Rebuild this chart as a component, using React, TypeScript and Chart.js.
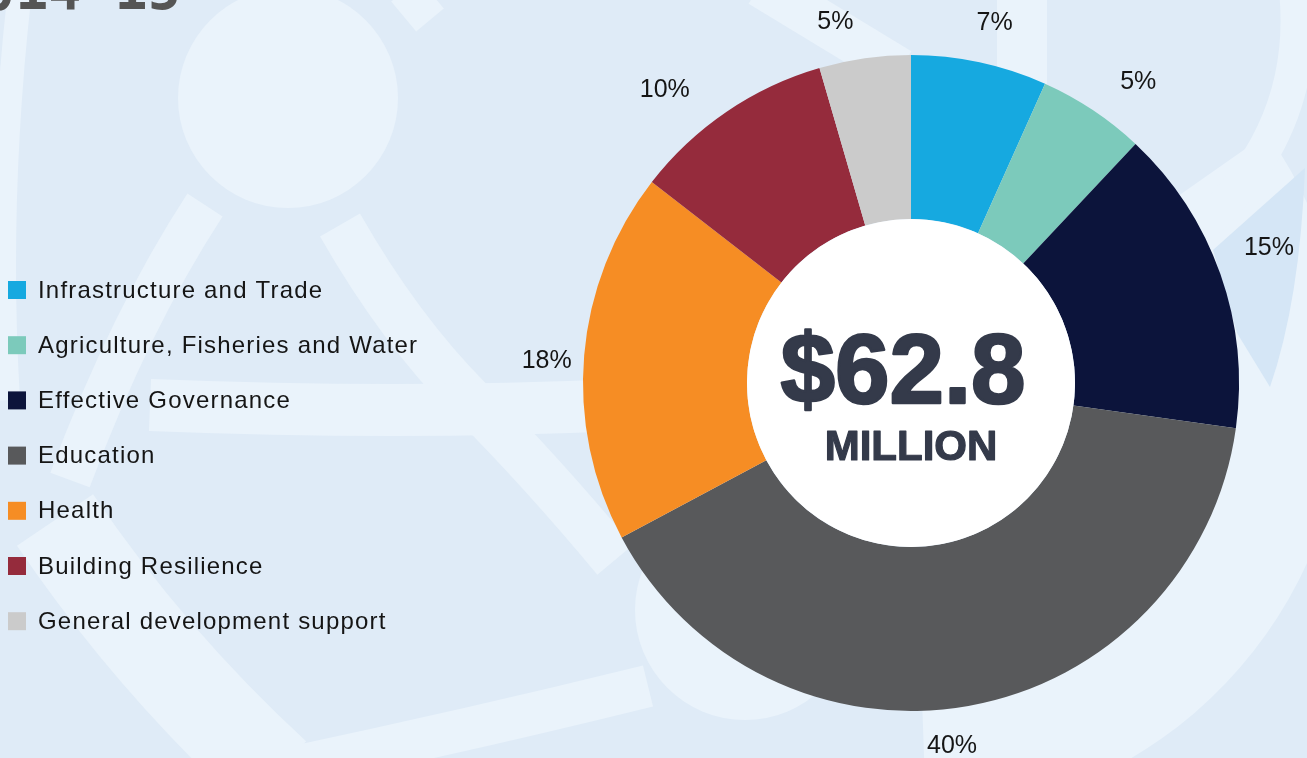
import React, { useEffect, useRef } from "react";
import { Chart, registerables } from "chart.js";

Chart.register(...registerables);

const categories = [
  "Infrastructure and Trade",
  "Agriculture, Fisheries and Water",
  "Effective Governance",
  "Education",
  "Health",
  "Building Resilience",
  "General development support",
];
const shares = [6.7, 5.3, 15.2, 40.0, 18.3, 10.0, 4.5];
const shareLabels = ["7%", "5%", "15%", "40%", "18%", "10%", "5%"];
const colors = ["#16a9e0", "#7ccabb", "#0c143b", "#58595b", "#f68d24", "#952b3c", "#cbcbcb"];
const totalText = "$62.8";
const unitText = "MILLION";
const yearText = "2014-15";

// label placement style (angle nudge in degrees, gap beyond outer radius in px)
const labelNudgeDeg = [1.0, 3.3, -1.4, 3.6, -1.3, -5.8, -3.7];
const labelGap = [42, 50, 55, 36, 37, 55, 42];

const BASE = "#dfebf7";
const LIGHT = "#eaf3fb";
const DARK = "#d5e6f6";

function drawDecor(ctx: CanvasRenderingContext2D) {
  ctx.save();
  ctx.fillStyle = BASE;
  ctx.fillRect(0, 0, 1307, 758);
  ctx.strokeStyle = LIGHT;
  ctx.fillStyle = LIGHT;
  ctx.lineCap = "butt";
  // left outer band
  ctx.lineWidth = 24;
  ctx.beginPath();
  ctx.moveTo(20, -10);
  ctx.quadraticCurveTo(-4, 200, 8, 400);
  ctx.stroke();
  // top circle
  ctx.beginPath();
  ctx.arc(288, 98, 110, 0, Math.PI * 2);
  ctx.fill();
  // diagonal band down-left
  ctx.lineWidth = 42;
  ctx.beginPath();
  ctx.moveTo(205, 205);
  ctx.quadraticCurveTo(130, 320, 70, 480);
  ctx.stroke();
  // diagonal band down-right
  ctx.lineWidth = 46;
  ctx.beginPath();
  ctx.moveTo(340, 225);
  ctx.quadraticCurveTo(400, 330, 470, 400);
  ctx.quadraticCurveTo(540, 470, 615, 560);
  ctx.stroke();
  // horizontal band
  ctx.lineWidth = 52;
  ctx.beginPath();
  ctx.moveTo(150, 405);
  ctx.quadraticCurveTo(400, 415, 620, 405);
  ctx.stroke();
  // lower left bands
  ctx.lineWidth = 92;
  ctx.beginPath();
  ctx.moveTo(55, 520);
  ctx.quadraticCurveTo(150, 660, 275, 775);
  ctx.stroke();
  ctx.lineWidth = 42;
  ctx.beginPath();
  ctx.moveTo(280, 770);
  ctx.quadraticCurveTo(470, 730, 648, 686);
  ctx.stroke();
  // bottom circle
  ctx.beginPath();
  ctx.arc(745, 610, 110, 0, Math.PI * 2);
  ctx.fill();
  // top bands
  ctx.lineWidth = 44;
  ctx.beginPath();
  ctx.moveTo(760, -15);
  ctx.lineTo(900, 70);
  ctx.stroke();
  ctx.lineWidth = 50;
  ctx.beginPath();
  ctx.moveTo(1022, -5);
  ctx.lineTo(1022, 90);
  ctx.stroke();
  ctx.lineWidth = 36;
  ctx.beginPath();
  ctx.moveTo(405, -10);
  ctx.lineTo(430, 20);
  ctx.stroke();
  // light ring around donut on the right / bottom right
  const cx = 911, cy = 383;
  ctx.beginPath();
  ctx.arc(cx, cy, 435, (-90 + 55) * Math.PI / 180, (-90 + 178) * Math.PI / 180);
  ctx.arc(cx, cy, 320, (-90 + 178) * Math.PI / 180, (-90 + 55) * Math.PI / 180, true);
  ctx.closePath();
  ctx.fill();
  // top-right band
  ctx.lineWidth = 34;
  ctx.beginPath();
  ctx.moveTo(1296, -10);
  ctx.quadraticCurveTo(1310, 130, 1200, 228);
  ctx.stroke();
  // darker wedge
  ctx.fillStyle = DARK;
  ctx.beginPath();
  ctx.moveTo(1213, 250);
  ctx.lineTo(1305, 168);
  ctx.quadraticCurveTo(1300, 300, 1270, 387);
  ctx.lineTo(1237, 333);
  ctx.closePath();
  ctx.fill();
  ctx.restore();
}

const decorPlugin = {
  id: "decor",
  beforeDraw(chart: any) {
    drawDecor(chart.ctx);
  },
  afterDatasetsDraw(chart: any) {
    const ctx = chart.ctx as CanvasRenderingContext2D;
    const meta = chart.getDatasetMeta(0);
    const arcs = meta.data;
    if (!arcs.length) return;
    const first = arcs[0].getProps(["x", "y", "innerRadius", "outerRadius"], true);
    ctx.save();
    // white hole
    ctx.fillStyle = "#ffffff";
    ctx.beginPath();
    ctx.arc(first.x, first.y, first.innerRadius, 0, Math.PI * 2);
    ctx.fill();
    // center text
    ctx.fillStyle = "#343a4a";
    ctx.strokeStyle = "#343a4a";
    ctx.lineJoin = "round";
    ctx.textAlign = "center";
    ctx.textBaseline = "alphabetic";
    ctx.font = "bold 98px 'Liberation Sans', Arial, sans-serif";
    ctx.lineWidth = 2.5;
    ctx.fillText(totalText, first.x - 8, first.y + 20);
    ctx.strokeText(totalText, first.x - 8, first.y + 20);
    ctx.font = "bold 42px 'Liberation Sans', Arial, sans-serif";
    ctx.lineWidth = 1.2;
    ctx.fillText(unitText, first.x, first.y + 77);
    ctx.strokeText(unitText, first.x, first.y + 77);
    // percent labels
    ctx.fillStyle = "#151515";
    ctx.font = "25px 'Liberation Sans', Arial, sans-serif";
    ctx.textBaseline = "middle";
    arcs.forEach((arc: any, i: number) => {
      const p = arc.getProps(["x", "y", "startAngle", "endAngle", "outerRadius"], true);
      const mid = (p.startAngle + p.endAngle) / 2 + (labelNudgeDeg[i] * Math.PI) / 180;
      const r = p.outerRadius + labelGap[i];
      ctx.fillText(shareLabels[i], p.x + Math.cos(mid) * r, p.y + Math.sin(mid) * r + 1);
    });
    // legend
    ctx.textAlign = "left";
    ctx.font = "24px 'Liberation Sans', Arial, sans-serif";
    (ctx as any).letterSpacing = "1.2px";
    categories.forEach((c, i) => {
      const cy = 290 + i * 55.2;
      ctx.fillStyle = colors[i];
      ctx.fillRect(8, cy - 9, 18, 18);
      ctx.fillStyle = "#151515";
      ctx.fillText(c, 38, cy + 1);
    });
    (ctx as any).letterSpacing = "0px";
    // year heading (cut off at top)
    ctx.fillStyle = "#555555";
    ctx.font = "bold 55px 'DejaVu Sans Mono', monospace";
    ctx.textBaseline = "alphabetic";
    ctx.fillText(yearText, -51, 9);
    ctx.restore();
  },
};

export default function App() {
  const ref = useRef<HTMLCanvasElement>(null);
  useEffect(() => {
    if (!ref.current) return;
    const chart = new Chart(ref.current, {
      type: "doughnut",
      data: {
        labels: categories,
        datasets: [
          {
            data: shares,
            backgroundColor: colors,
            borderWidth: 0,
          },
        ],
      },
      options: {
        responsive: true,
        maintainAspectRatio: false,
        animation: false,
        cutout: "50%",
        layout: { padding: { left: 583, right: 68, top: 55, bottom: 47 } },
        plugins: {
          legend: { display: false },
          tooltip: { enabled: false },
        },
      },
      plugins: [decorPlugin],
    });
    return () => chart.destroy();
  }, []);
  return (
    <div style={{ position: "absolute", left: 0, top: 0, width: 1307, height: 758, overflow: "hidden" }}>
      <canvas ref={ref} />
    </div>
  );
}
